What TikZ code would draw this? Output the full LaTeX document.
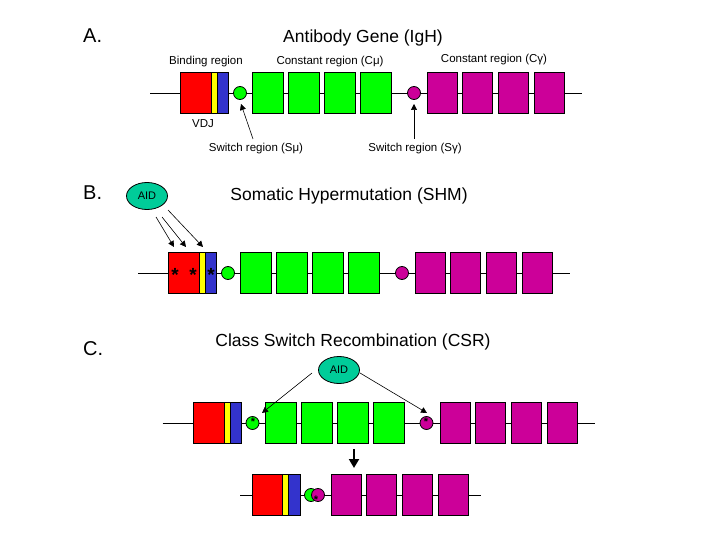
\documentclass[tikz,border=0pt]{standalone}
\usepackage{fontspec}
\setmainfont{Liberation Sans}
\usetikzlibrary{arrows.meta,shapes.geometric}
\definecolor{vred}{HTML}{FF0000}
\definecolor{vyel}{HTML}{FFFF00}
\definecolor{vblue}{HTML}{3333CC}
\definecolor{cgreen}{HTML}{00FF00}
\definecolor{cmag}{HTML}{CC0099}
\definecolor{aidcol}{HTML}{00CC99}
\tikzset{
  gbox/.style={draw, line width=1pt, inner sep=0pt, minimum height=41pt, anchor=west},
  sw/.style={circle, draw, line width=0.8pt, inner sep=0pt, minimum size=13pt},
  dna/.style={line width=0.8pt},
  lbl/.style={font=\fontsize{11.5}{13}\selectfont, anchor=base, inner sep=0pt},
  ttl/.style={font=\fontsize{17.5}{20}\selectfont, anchor=base, inner sep=0pt},
  letter/.style={font=\fontsize{20}{22}\selectfont, anchor=base west, inner sep=0pt},
  aid/.style={ellipse, draw, line width=0.8pt, fill=aidcol, inner sep=0pt, minimum width=41pt, minimum height=27pt, font=\fontsize{11}{12}\selectfont},
  arr/.style={line width=0.6pt, -{Triangle[width=6pt,length=6pt]}},
  star/.style={font=\bfseries\fontsize{19}{19}\selectfont, inner sep=0pt, anchor=base},
  sstar/.style={font=\bfseries\fontsize{11}{11}\selectfont, inner sep=0pt, anchor=base},
}
\newcommand\generow[3]{%
\begin{scope}[shift={(#2,#3)}]
  \coordinate (#1L) at (150,0);
  \coordinate (#1R) at (582,0);
  \draw[dna] (#1L) -- (#1R);
  \node[gbox, fill=vred, minimum width=31pt] (#1v) at (180,0) {};
  \node[gbox, fill=vyel, minimum width=6pt] (#1d) at (211,0) {};
  \node[gbox, fill=vblue, minimum width=11pt] (#1j) at (217,0) {};
  \node[sw, fill=cgreen] (#1smu) at (240,0) {};
  \node[gbox, fill=cgreen, minimum width=31pt] (#1cm1) at (252,0) {};
  \node[gbox, fill=cgreen, minimum width=31pt] (#1cm2) at (288,0) {};
  \node[gbox, fill=cgreen, minimum width=31pt] (#1cm3) at (324,0) {};
  \node[gbox, fill=cgreen, minimum width=31pt] (#1cm4) at (360,0) {};
  \node[sw, fill=cmag] (#1sg) at (414,0) {};
  \node[gbox, fill=cmag, minimum width=30pt] (#1cg1) at (427,0) {};
  \node[gbox, fill=cmag, minimum width=30pt] (#1cg2) at (462,0) {};
  \node[gbox, fill=cmag, minimum width=30pt] (#1cg3) at (498,0) {};
  \node[gbox, fill=cmag, minimum width=30pt] (#1cg4) at (534,0) {};
\end{scope}}
\begin{document}
\begin{tikzpicture}[x=1pt,y=-1pt]
\useasboundingbox[fill=white] (0,0) rectangle (720,540);

% ---------- A ----------
\node[letter] (la) at (83,43) {A.};
\node[ttl] (ta) at (363,43) {Antibody Gene (IgH)};
\generow{a}{0}{93}
\node[lbl] (bind) at (206,65) {Binding region};
\node[lbl] (cmu) at (330,65) {Constant region (Cμ)};
\node[lbl] (cgam) at (494,63) {Constant region (Cγ)};
\node[lbl] (vdj) at (203,128) {VDJ};
\node[lbl] (smulbl) at (256,152) {Switch region (Sμ)};
\node[lbl] (sglbl) at (415,152) {Switch region (Sγ)};
\coordinate (smuT) at (253,139);
\coordinate (smuH) at (241,104);
\coordinate (sgT) at (414,139);
\coordinate (sgH) at (414,104);
\draw[arr] (smuT) -- (smuH);
\draw[arr] (sgT) -- (sgH);

% ---------- B ----------
\node[letter] (lb) at (83,200) {B.};
\node[ttl] (tb) at (349,201) {Somatic Hypermutation (SHM)};
\generow{b}{-12}{273}
\node[aid] (aidB) at (147,196) {AID};
\coordinate (b1T) at (156,217); \coordinate (b1H) at (174,247);
\coordinate (b2T) at (162,217); \coordinate (b2H) at (186,247);
\coordinate (b3T) at (168,210); \coordinate (b3H) at (203,247);
\draw[arr] (b1T) -- (b1H);
\draw[arr] (b2T) -- (b2H);
\draw[arr] (b3T) -- (b3H);
\node[star] (s1) at (175,281) {*};
\node[star] (s2) at (193,281) {*};
\node[star] (s3) at (211,281) {*};

% ---------- C ----------
\node[letter] (lc) at (83,355) {C.};
\node[ttl] (tc) at (353,346) {Class Switch Recombination (CSR)};
\generow{c}{12.5}{423}
\node[aid] (aidC) at (339,370) {AID};
\coordinate (c1T) at (312,373); \coordinate (c1H) at (262,413);
\coordinate (c2T) at (360,373); \coordinate (c2H) at (427,413);
\draw[arr] (c1T) -- (c1H);
\draw[arr] (c2T) -- (c2H);
\node[sstar] (cs1) at (253,425) {*};
\node[sstar] (cs2) at (426,425) {*};

% down arrow
\coordinate (dT) at (354,449);
\coordinate (dH) at (354,468);
\draw[line width=2pt, -{Triangle[width=10pt,length=9pt]}] (dT) -- (dH);

% ---------- D (recombined) ----------
\coordinate (dL) at (240,495);
\coordinate (dR) at (481,495);
\draw[dna] (dL) -- (dR);
\node[gbox, fill=vred, minimum width=30pt] (dv) at (252,495) {};
\node[gbox, fill=vyel, minimum width=6pt] (dd) at (282,495) {};
\node[gbox, fill=vblue, minimum width=12pt] (dj) at (288,495) {};
\node[sw, fill=cgreen] (dsmu) at (311,495) {};
\node[sw, fill=cmag] (dsg) at (318,495) {};
\node[sstar] (ds) at (316,503) {*};
\node[gbox, fill=cmag, minimum width=30pt] (dcg1) at (331,495) {};
\node[gbox, fill=cmag, minimum width=30pt] (dcg2) at (366,495) {};
\node[gbox, fill=cmag, minimum width=30pt] (dcg3) at (402,495) {};
\node[gbox, fill=cmag, minimum width=30pt] (dcg4) at (438,495) {};
\end{tikzpicture}
\end{document}
